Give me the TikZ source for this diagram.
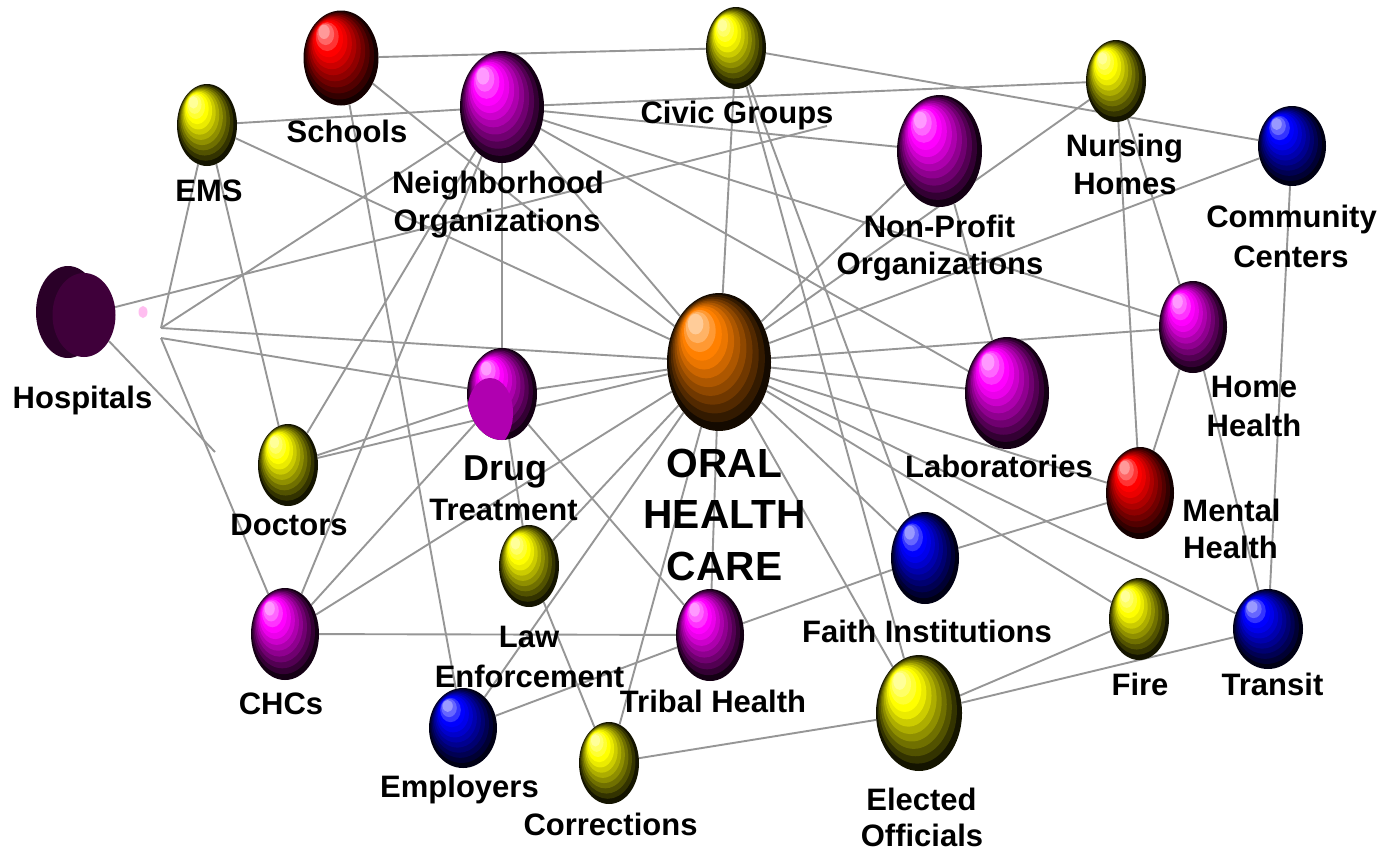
\documentclass[tikz,border=0pt]{standalone}
\usepackage{fontspec}
\setmainfont{Liberation Sans}
\usetikzlibrary{shapes.geometric}
\pgfdeclarelayer{back}
\pgfdeclarelayer{edges}
\pgfsetlayers{back,edges,main}
\definecolor{edgegray}{RGB}{150,150,150}
\definecolor{ballyellow}{RGB}{255,255,0}
\definecolor{ballred}{RGB}{255,0,0}
\definecolor{ballmag}{RGB}{255,0,255}
\definecolor{ballblue}{RGB}{0,0,255}
\definecolor{ballorange}{RGB}{255,128,0}
\definecolor{hospback}{RGB}{42,0,40}
\definecolor{hospfront}{RGB}{63,0,58}
\definecolor{pinkdot}{RGB}{255,190,240}
\definecolor{drugflat}{RGB}{176,0,176}
\tikzset{
  edge/.style={draw=edgegray, line width=1.9pt},
  lab/.style={font=\bfseries\fontsize{31}{37}\selectfont, anchor=base, inner sep=0pt},
  bigLab/.style={font=\bfseries\fontsize{40.7}{51}\selectfont, anchor=base, inner sep=0pt},
  drugLab/.style={font=\bfseries\fontsize{36}{42}\selectfont, anchor=base, inner sep=0pt},
  ballnode/.style={ellipse, inner sep=0pt, draw=none}
}
% rings of a shaded ball: x, y, rx, ry, colour
\newcommand\shadeball[5]{%
  \foreach \bi/\bcol in {0/{#5!8!black},1/{#5!20!black},2/{#5!32!black},3/{#5!44!black},4/{#5!56!black},5/{#5!68!black},6/{#5!80!black},7/{#5!92!black},8/{#5},9/{#5!80!white},10/{#5!60!white},11/{#5!40!white}}{%
    \pgfmathsetmacro\ballt{\bi/11}%
    \pgfmathsetmacro\balls{1-0.85*\ballt}%
    \pgfmathsetmacro\ballx{#1-0.45*#3*\ballt}%
    \pgfmathsetmacro\bally{#2-0.55*#4*\ballt}%
    \pgfmathsetmacro\ballrx{#3*\balls}%
    \pgfmathsetmacro\ballry{#4*\balls}%
    \fill[fill=\bcol] (\ballx,\bally) ellipse [x radius=\ballrx pt, y radius=\ballry pt];%
  }%
}
% named ball: name, x, y, rx, ry, colour
\newcommand\ball[6]{%
  \node[ballnode, minimum width=#4*2pt, minimum height=#5*2pt] (#1) at (#2,#3) {};%
  \shadeball{#2}{#3}{#4}{#5}{#6}%
}
\begin{document}
\begin{tikzpicture}[x=1pt,y=-1pt]
\useasboundingbox (0,0) rectangle (1383,852);
\begin{pgfonlayer}{back}
\fill[white] (0,0) rectangle (1383,852);
\end{pgfonlayer}

% hospitals (flat disc)
\fill[hospback] (68,312) ellipse [x radius=32pt, y radius=46pt];
\node[ballnode, fill=hospfront, minimum width=63pt, minimum height=84pt] (hos) at (84,315) {};
\node[ballnode, fill=pinkdot, minimum width=9pt, minimum height=12pt] (dot) at (143,312) {};

% balls
\ball{sch}{341}{58}{37.5}{47.5}{ballred}
\ball{ems}{207}{125}{30}{41}{ballyellow}
\ball{civ}{736}{48}{30}{41}{ballyellow}
\ball{no}{502}{107}{42}{56}{ballmag}
\ball{nur}{1116}{81}{30}{41}{ballyellow}
\ball{cc}{1292}{146}{34}{40}{ballblue}
\ball{np}{939.5}{151}{42.5}{56}{ballmag}
\ball{drug}{502}{394}{35}{46}{ballmag}
\begin{scope}
  \clip (502,394) ellipse [x radius=35pt, y radius=46pt];
  \fill[drugflat] (490,413) ellipse [x radius=23pt, y radius=35pt];
\end{scope}
\ball{ohc}{719}{362}{52}{69}{ballorange}
\ball{lab}{1007}{393}{42}{56}{ballmag}
\ball{hh}{1193}{327}{34}{46}{ballmag}
\ball{mh}{1140}{493}{34}{46}{ballred}
\ball{doc}{288}{465}{30}{41}{ballyellow}
\ball{chc}{285}{634}{34}{46}{ballmag}
\ball{law}{529}{566}{30}{41}{ballyellow}
\ball{emp}{463}{728}{34}{40}{ballblue}
\ball{cor}{609}{763}{30}{41}{ballyellow}
\ball{tri}{710}{635}{34}{46}{ballmag}
\ball{fai}{925}{558}{34}{46}{ballblue}
\ball{ele}{919}{713}{43}{58}{ballyellow}
\ball{fir}{1139}{619}{30}{41}{ballyellow}
\ball{tra}{1268}{629}{35}{40}{ballblue}

% free line ends
\coordinate (f1) at (161,328);
\coordinate (f2) at (161,338);
\coordinate (f3) at (215,452);
\coordinate (f4) at (827,126);

% labels
\node[lab] (lsch) at (347,142) {Schools};
\node[lab] (lems) at (209,201) {EMS};
\node[lab] (lno1) at (498,193) {Neighborhood};
\node[lab] (lno2) at (497,231) {Organizations};
\node[lab] (lciv) at (737,123) {Civic Groups};
\node[lab] (lnur1) at (1124.5,156) {Nursing};
\node[lab] (lnur2) at (1125,194) {Homes};
\node[lab] (lcc1) at (1291.5,227) {Community};
\node[lab] (lcc2) at (1291,267) {Centers};
\node[lab] (lnp1) at (939.5,237) {Non-Profit};
\node[lab] (lnp2) at (940,274) {Organizations};
\node[lab] (lhos) at (82.5,408) {Hospitals};
\node[lab] (lhh1) at (1254,397) {Home};
\node[lab] (lhh2) at (1254,436) {Health};
\node[lab] (llab) at (999,477) {Laboratories};
\node[lab] (lmh1) at (1231.5,521) {Mental};
\node[lab] (lmh2) at (1230.5,558) {Health};
\node[lab] (ldoc) at (289,535) {Doctors};
\node[drugLab] (ldrug1) at (505,480) {Drug};
\node[lab] (ldrug2) at (503.5,520) {Treatment};
\node[bigLab] (lohc1) at (724.5,477) {ORAL};
\node[bigLab] (lohc2) at (724.5,528) {HEALTH};
\node[bigLab] (lohc3) at (724.5,580) {CARE};
\node[lab] (llaw1) at (529,647) {Law};
\node[lab] (llaw2) at (529.5,687) {Enforcement};
\node[lab] (lfai) at (927,642) {Faith Institutions};
\node[lab] (lchc) at (281,714) {CHCs};
\node[lab] (ltri) at (713,712) {Tribal Health};
\node[lab] (lfir) at (1140,695) {Fire};
\node[lab] (ltra) at (1272.5,695) {Transit};
\node[lab] (lemp) at (459.5,797) {Employers};
\node[lab] (lcor) at (610.5,835) {Corrections};
\node[lab] (lele1) at (921.5,810) {Elected};
\node[lab] (lele2) at (922,846) {Officials};

% connectors
\begin{pgfonlayer}{edges}
\draw[edge] (sch) -- (civ);
\draw[edge] (sch) -- (ohc);
\draw[edge] (sch) -- (emp);
\draw[edge] (civ) -- (cc);
\draw[edge] (civ) -- (ohc);
\draw[edge] (civ) -- (ele);
\draw[edge] (civ) -- (fai);
\draw[edge] (ems) -- (no);
\draw[edge] (ems) -- (ohc);
\draw[edge] (ems) -- (f1);
\draw[edge] (ems) -- (doc);
\draw[edge] (no) -- (nur);
\draw[edge] (no) -- (np);
\draw[edge] (no) -- (ohc);
\draw[edge] (no) -- (lab);
\draw[edge] (no) -- (hh);
\draw[edge] (no) -- (drug);
\draw[edge] (no) -- (doc);
\draw[edge] (no) -- (chc);
\draw[edge] (f1) -- (no);
\draw[edge] (f1) -- (ohc);
\draw[edge] (f2) -- (drug);
\draw[edge] (f2) -- (chc);
\draw[edge] (hos) -- (f4);
\draw[edge] (hos) -- (f3);
\draw[edge] (doc) -- (drug);
\draw[edge] (doc) -- (ohc);
\draw[edge] (chc) -- (drug);
\draw[edge] (chc) -- (ohc);
\draw[edge] (chc) -- (tri);
\draw[edge] (drug) -- (ohc);
\draw[edge] (drug) -- (law);
\draw[edge] (drug) -- (tri);
\draw[edge] (nur) -- (ohc);
\draw[edge] (nur) -- (mh);
\draw[edge] (nur) -- (hh);
\draw[edge] (np) -- (ohc);
\draw[edge] (np) -- (lab);
\draw[edge] (cc) -- (ohc);
\draw[edge] (cc) -- (tra);
\draw[edge] (hh) -- (ohc);
\draw[edge] (hh) -- (mh);
\draw[edge] (hh) -- (tra);
\draw[edge] (ohc) -- (lab);
\draw[edge] (ohc) -- (mh);
\draw[edge] (ohc) -- (fir);
\draw[edge] (ohc) -- (fai);
\draw[edge] (ohc) -- (ele);
\draw[edge] (ohc) -- (tra);
\draw[edge] (ohc) -- (law);
\draw[edge] (ohc) -- (emp);
\draw[edge] (ohc) -- (cor);
\draw[edge] (ohc) -- (tri);
\draw[edge] (fai) -- (mh);
\draw[edge] (fai) -- (tri);
\draw[edge] (law) -- (cor);
\draw[edge] (emp) -- (tri);
\draw[edge] (ele) -- (fir);
\draw[edge] (ele) -- (tra);
\draw[edge] (ele) -- (cor);
\end{pgfonlayer}
\end{tikzpicture}
\end{document}
